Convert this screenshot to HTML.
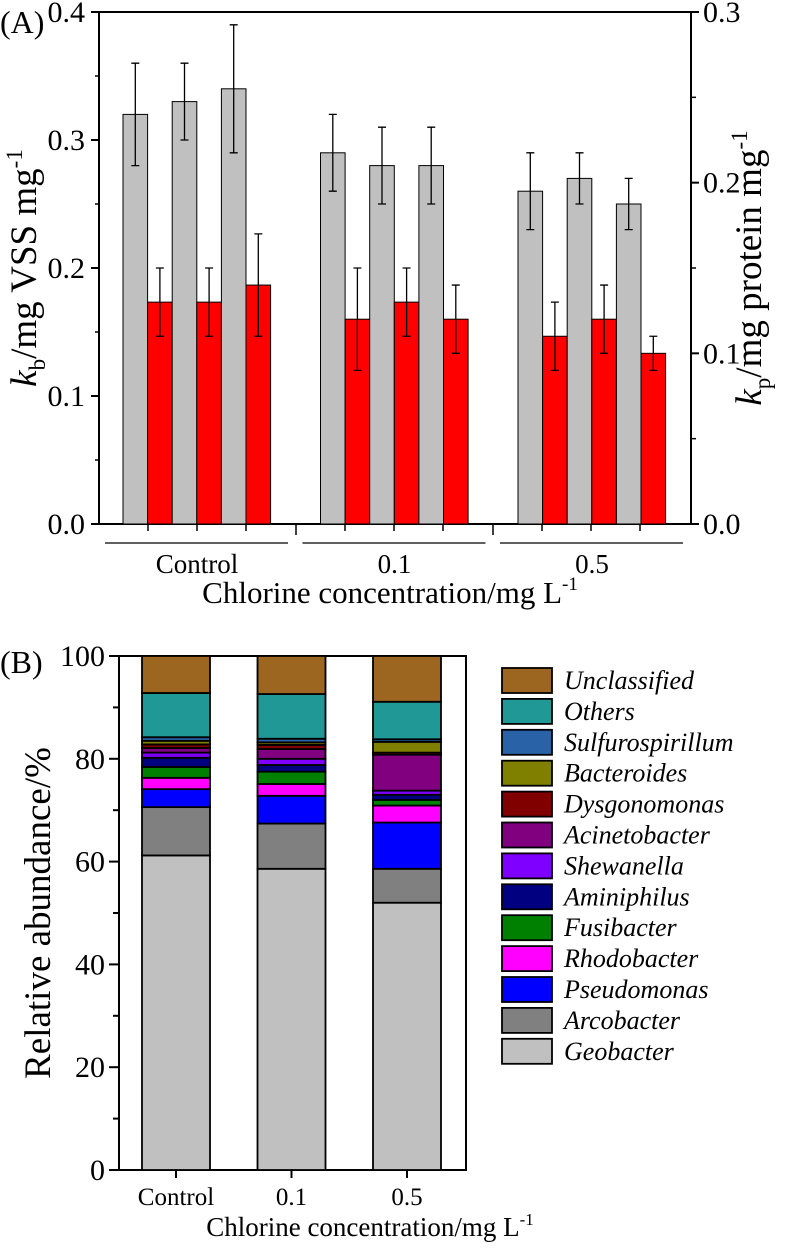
<!DOCTYPE html>
<html><head><meta charset="utf-8"><style>
body{margin:0;background:#fff}
svg{display:block}
svg text{font-family:"Liberation Serif","Times New Roman",serif}
</style></head><body>
<svg id="s" width="787" height="1252" viewBox="0 0 787 1252" xmlns="http://www.w3.org/2000/svg" font-family="Liberation Serif, serif"></svg>
<script>
const groupsA=["Control","0.1","0.5"];
const kb=[[0.32,0.33,0.34],[0.29,0.28,0.28],[0.26,0.27,0.25]];
const kbErr=[[0.04,0.03,0.05],[0.03,0.03,0.03],[0.03,0.02,0.02]];
const kp=[[0.13,0.13,0.14],[0.12,0.13,0.12],[0.11,0.12,0.10]];
const kpErr=[[0.02,0.02,0.03],[0.03,0.02,0.02],[0.02,0.02,0.01]];
const leftTicks=["0.0","0.1","0.2","0.3","0.4"];
const rightTicks=["0.0","0.1","0.2","0.3"];
const groupsB=["Control","0.1","0.5"];
const taxa=["Geobacter","Arcobacter","Pseudomonas","Rhodobacter","Fusibacter","Aminiphilus","Shewanella","Acinetobacter","Dysgonomonas","Bacteroides","Sulfurospirillum","Others","Unclassified"];
const colors=["#c0c0c0","#808080","#0000ff","#ff00ff","#008000","#000080","#8000ff","#800080","#800000","#808000","#2a62a8","#1f9896","#9c6520"];
const abund=[
[61.2,9.4,3.5,2.2,2.1,1.8,1.0,0.9,0.7,0.7,0.7,8.6,7.2],
[58.6,8.8,5.4,2.3,2.4,1.3,1.2,1.9,0.8,0.5,0.7,8.7,7.4],
[52.0,6.6,9.0,3.3,1.1,1.0,0.8,7.0,0.4,2.1,0.5,7.3,8.9]];
const bTicks=[0,20,40,60,80,100];

const NS="http://www.w3.org/2000/svg",S=document.getElementById('s');
function el(t,a,p){const e=document.createElementNS(NS,t);for(const k in a)e.setAttribute(k,a[k]);(p||S).appendChild(e);return e;}
function tx(x,y,s,a,p){const e=el('text',Object.assign({x:x,y:y,'font-family':'Liberation Serif, serif'},a),p);e.textContent=s;return e;}

// Panel A
const yL=v=>524-v*1280, yR=v=>524-v*1706.7;
const gA=el('g',{});

el('line',{x1:99,y1:12,x2:691,y2:12,stroke:'#000','stroke-width':2},gA);
el('line',{x1:99,y1:12,x2:99,y2:524,stroke:'#000','stroke-width':2},gA);
el('line',{x1:691,y1:12,x2:691,y2:524,stroke:'#000','stroke-width':2},gA);
el('line',{x1:91,y1:524,x2:699,y2:524,stroke:'#000','stroke-width':2},gA);
leftTicks.forEach((t,i)=>{const v=parseFloat(t),y=yL(v);
 el('line',{x1:91,y1:y,x2:99,y2:y,stroke:'#000','stroke-width':2},gA);
 if(i<4)el('line',{x1:99,y1:yL(v+0.05),x2:95,y2:yL(v+0.05),stroke:'#000','stroke-width':1.5},gA);
 const l=tx(85,y+10,t,{'font-size':30,'text-anchor':'end'},gA);
 });
rightTicks.forEach((t,i)=>{const v=parseFloat(t),y=yR(v);
 el('line',{x1:691,y1:y,x2:699,y2:y,stroke:'#000','stroke-width':2},gA);
 if(i<3)el('line',{x1:691,y1:yR(v+0.05),x2:696,y2:yR(v+0.05),stroke:'#000','stroke-width':1.5},gA);
 const l=tx(703,y+10,t,{'font-size':30},gA);
 });
const bw=24.6;
groupsA.forEach((g,gi)=>{
 const x0=123+gi*197.5;
 for(let k=0;k<3;k++){
  const xg=x0+k*2*bw, xr=xg+bw;
  let y=yL(kb[gi][k]);
  const b=el('rect',{x:xg,y:y,width:bw,height:524-y,fill:'#c0c0c0',stroke:'#000','stroke-width':1},gA);
  
  const e1=yL(kb[gi][k]+kbErr[gi][k]),e2=yL(kb[gi][k]-kbErr[gi][k]),cx=xg+bw/2;
  el('path',{d:`M${cx} ${e1}V${e2}M${cx-4} ${e1}H${cx+4}M${cx-4} ${e2}H${cx+4}`,stroke:'#000','stroke-width':1.3,fill:'none'},gA);
  y=yR(kp[gi][k]);
  const r=el('rect',{x:xr,y:y,width:bw,height:524-y,fill:'#ff0000',stroke:'#000','stroke-width':1},gA);
  
  const f1=yR(kp[gi][k]+kpErr[gi][k]),f2=yR(kp[gi][k]-kpErr[gi][k]),cr=xr+bw/2;
  el('path',{d:`M${cr} ${f1}V${f2}M${cr-4} ${f1}H${cr+4}M${cr-4} ${f2}H${cr+4}`,stroke:'#000','stroke-width':1.3,fill:'none'},gA);
 }
 el('line',{x1:x0-18,y1:543,x2:x0+165,y2:543,stroke:'#000','stroke-width':1.3},gA);
 const gl=tx(x0+74,573,g,{'font-size':27,'text-anchor':'middle'},gA);
 
});
[148,197,246,345,394,443,542,591,640,296,493].forEach(x=>el('line',{x1:x,y1:524,x2:x,y2:(x==296||x==493)?535:531,stroke:'#000','stroke-width':1.5},gA));
let t=tx(390,603,'Chlorine concentration/mg L',{'font-size':31,'text-anchor':'middle'});

el('tspan',{dy:-13,'font-size':19},t).textContent='-1';
t=tx(0,33,'(A)',{'font-size':32});
t=el('text',{transform:'translate(36,268) rotate(-90)','font-size':37,'text-anchor':'middle','font-family':'Liberation Serif, serif'});

el('tspan',{'font-style':'italic'},t).textContent='k';el('tspan',{dy:9,'font-size':23},t).textContent='b';
el('tspan',{dy:-9},t).textContent='/mg VSS mg';el('tspan',{dy:-14,'font-size':23},t).textContent='-1';
t=el('text',{transform:'translate(761,268) rotate(-90)','font-size':37,'text-anchor':'middle','font-family':'Liberation Serif, serif'});

el('tspan',{'font-style':'italic'},t).textContent='k';el('tspan',{dy:9,'font-size':23},t).textContent='p';
el('tspan',{dy:-9},t).textContent='/mg protein mg';el('tspan',{dy:-14,'font-size':23},t).textContent='-1';

// Panel B
const yB=v=>1170-v*5.14;
const gB=el('g',{});

el('rect',{x:119,y:yB(100),width:347,height:yB(0)-yB(100),fill:'none',stroke:'#000','stroke-width':2},gB);
bTicks.forEach((v,i)=>{const y=yB(v);
 el('line',{x1:109,y1:y,x2:119,y2:y,stroke:'#000','stroke-width':2},gB);
 if(i<5)el('line',{x1:113,y1:yB(v+10),x2:119,y2:yB(v+10),stroke:'#000','stroke-width':2},gB);
 const l=tx(105,y+10,String(v),{'font-size':30,'text-anchor':'end'},gB);
 });
groupsB.forEach((g,gi)=>{
 const cx=176+gi*115.5;let cum=0;
 abund[gi].forEach((v,ti)=>{
  const r=el('rect',{x:cx-34,y:yB(cum+v),width:68,height:yB(cum)-yB(cum+v),fill:colors[ti],stroke:'#000','stroke-width':1.8},gB);
  
  cum+=v;});
 el('line',{x1:cx,y1:1170,x2:cx,y2:1178,stroke:'#000','stroke-width':2},gB);
 const l=tx(cx,1205,g,{'font-size':25,'text-anchor':'middle'},gB);
 
});
t=tx(370,1236,'Chlorine concentration/mg L',{'font-size':27,'text-anchor':'middle'});

el('tspan',{dy:-11,'font-size':17},t).textContent='-1';
t=tx(0,673,'(B)',{'font-size':32});
t=el('text',{transform:'translate(50,913) rotate(-90)','font-size':37,'text-anchor':'middle','font-family':'Liberation Serif, serif'});
t.textContent='Relative abundance/%';

const lg=el('g',{});
for(let i=taxa.length-1;i>=0;i--){
 const row=taxa.length-1-i,y=668+row*30.9;
 const r=el('rect',{x:502,y:y,width:50,height:25,fill:colors[i],stroke:'#000','stroke-width':1.8},lg);
 
 const l=tx(564,y+21,taxa[i],{'font-size':26,'font-style':'italic'},lg);
 
}
</script>
</body></html>
